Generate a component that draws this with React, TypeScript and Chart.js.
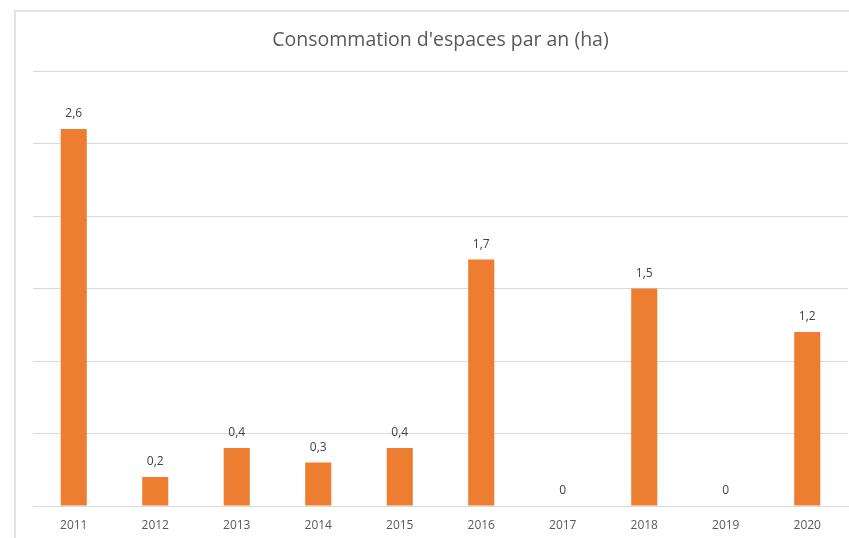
import React, { useEffect, useRef } from "react";
import { Chart, registerables } from "chart.js";

Chart.register(...registerables);

const TITLE = "Consommation d'espaces par an (ha)";
const years = ["2011", "2012", "2013", "2014", "2015", "2016", "2017", "2018", "2019", "2020"];
const values = [2.6, 0.2, 0.4, 0.3, 0.4, 1.7, 0, 1.5, 0, 1.2];
const Y_MAX = 3;
const Y_STEP = 0.5;

const FONT = "'Open Sans', 'Noto Sans', sans-serif";

const labelsPlugin = {
  id: "valueLabels",
  afterDatasetsDraw(chart: any) {
    const ctx = chart.ctx;
    const meta = chart.getDatasetMeta(0);
    ctx.save();
    ctx.fillStyle = "#404040";
    ctx.font = `12px ${FONT}`;
    ctx.textAlign = "center";
    ctx.textBaseline = "middle";
    meta.data.forEach((bar: any, i: number) => {
      const v = values[i];
      ctx.fillText(String(v).replace(".", ","), bar.x, bar.y - 15);
    });
    ctx.restore();
  },
};

const titlePlugin = {
  id: "customTitle",
  afterDraw(chart: any) {
    const ctx = chart.ctx;
    const area = chart.chartArea;
    ctx.save();
    ctx.fillStyle = "#595959";
    ctx.font = `19.5px ${FONT}`;
    ctx.textAlign = "center";
    ctx.textBaseline = "middle";
    ctx.fillText(TITLE, (area.left + area.right) / 2, 40);
    ctx.restore();
  },
};

export default function App() {
  const ref = useRef<HTMLCanvasElement>(null);
  useEffect(() => {
    if (!ref.current) return;
    const chart = new Chart(ref.current, {
      type: "bar",
      data: {
        labels: years,
        datasets: [
          {
            data: values,
            backgroundColor: "#ED7D31",
            categoryPercentage: 1,
            barPercentage: 0.32,
          },
        ],
      },
      options: {
        animation: false,
        responsive: false,
        layout: { padding: { top: 71, left: 33, right: 1, bottom: 0 } },
        plugins: {
          legend: { display: false },
          title: { display: false },
          tooltip: { enabled: false },
        },
        scales: {
          x: {
            grid: { display: false },
            border: { color: "#d9d9d9", width: 1 },
            ticks: { color: "#595959", font: { family: FONT, size: 12 }, padding: 4 },
            afterFit: (s: any) => {
              s.height = 32;
            },
          },
          y: {
            min: 0,
            max: Y_MAX,
            ticks: { display: false, stepSize: Y_STEP },
            grid: { color: "#d9d9d9", lineWidth: 1, drawTicks: false },
            border: { display: false },
            afterFit: (s: any) => {
              s.width = 0;
            },
          },
        },
      },
      plugins: [labelsPlugin, titlePlugin],
    });
    return () => chart.destroy();
  }, []);

  return (
    <div style={{ position: "fixed", left: 0, top: 0, width: 849, height: 538, background: "#fff", overflow: "hidden" }}>
      <div
        style={{
          position: "absolute",
          left: 14,
          top: 10,
          width: 900,
          height: 600,
          borderLeft: "2px solid #e3e3e3",
          borderTop: "2px solid #e3e3e3",
        }}
      />
      <canvas ref={ref} width={849} height={538} style={{ position: "absolute", left: 0, top: 0 }} />
    </div>
  );
}
